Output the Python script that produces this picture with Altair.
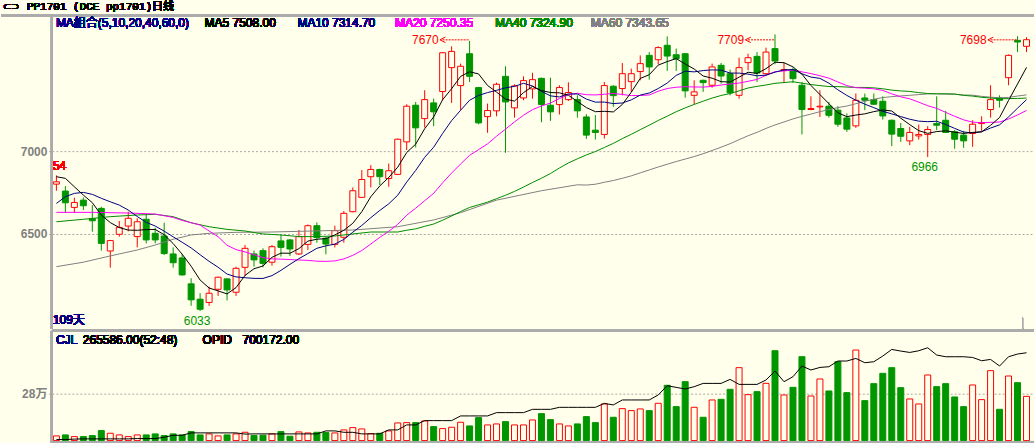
import altair as alt
import pandas as pd

BG = "#FFFFEB"
RED = "#FF0000"
GREEN = "#009600"
NAVY = "#000080"
MAGENTA = "#FF00FF"
MA40C = "#008C00"
GRAY = "#808080"
FRAME = "#ABABAB"
FONT = "Liberation Sans, Noto Sans CJK TC"

# ---------------- data ----------------
opens = [6802, 6760, 6661, 6705, 6593, 6655, 6397, 6498, 6548, 6484,
         6589, 6504, 6488, 6379, 6355, 6198, 6105, 6085, 6165, 6228,
         6147, 6298, 6379, 6399, 6329, 6458, 6464, 6379, 6437, 6550,
         6474, 6437, 6480, 6635, 6722, 6847, 6891, 6836, 6861, 7058,
         7280, 7199, 7294, 7363, 7508, 7399, 7592, 7387, 7211, 7246,
         7455, 7264, 7324, 7379, 7443, 7280, 7284, 7314, 7314, 7209,
         7129, 7103, 7395, 7381, 7423, 7484, 7582, 7556, 7643, 7586,
         7592, 7340, 7431, 7401, 7522, 7471, 7340, 7538, 7576, 7471,
         7623, 7492, 7496, 7401, 7254, 7270, 7274, 7250, 7203, 7155,
         7324, 7314, 7304, 7189, 7139, 7064, 7094, 7103, 7169, 7189,
         7119, 7099, 7109, 7169, 7254, 7324, 7447, 7673, 7637]
highs = [6855, 6790, 6720, 6722, 6675, 6665, 6464, 6579, 6635, 6595,
         6621, 6538, 6568, 6419, 6379, 6232, 6141, 6181, 6242, 6232,
         6302, 6433, 6399, 6413, 6433, 6494, 6470, 6524, 6558, 6570,
         6484, 6550, 6639, 6782, 6887, 6917, 6895, 6927, 7078, 7286,
         7300, 7371, 7320, 7602, 7637, 7532, 7670, 7391, 7290, 7417,
         7516, 7407, 7455, 7477, 7447, 7447, 7401, 7419, 7340, 7226,
         7220, 7421, 7401, 7536, 7502, 7582, 7602, 7637, 7697, 7623,
         7596, 7431, 7435, 7532, 7536, 7496, 7568, 7592, 7602, 7629,
         7709, 7536, 7508, 7421, 7334, 7371, 7300, 7274, 7230, 7351,
         7351, 7351, 7334, 7193, 7173, 7149, 7163, 7153, 7334, 7246,
         7129, 7125, 7189, 7213, 7401, 7340, 7588, 7698, 7692]
lows = [6762, 6629, 6629, 6645, 6514, 6399, 6296, 6484, 6516, 6419,
        6443, 6443, 6373, 6296, 6248, 6065, 6033, 6065, 6125, 6097,
        6125, 6246, 6302, 6298, 6308, 6363, 6367, 6373, 6403, 6447,
        6377, 6419, 6447, 6631, 6718, 6782, 6796, 6786, 6857, 7008,
        7024, 7145, 7153, 7310, 7294, 7250, 7421, 7165, 7113, 7213,
        6992, 7205, 7310, 7320, 7177, 7185, 7224, 7306, 7205, 7076,
        7072, 7078, 7270, 7340, 7361, 7431, 7435, 7528, 7488, 7488,
        7326, 7286, 7361, 7387, 7411, 7340, 7320, 7492, 7421, 7461,
        7528, 7415, 7415, 7103, 7250, 7209, 7205, 7149, 7119, 7143,
        7250, 7282, 7193, 7032, 7058, 7038, 7072, 6966, 7129, 7111,
        7016, 7022, 7028, 7125, 7205, 7266, 7401, 7602, 7602]
closes = [6816, 6689, 6691, 6671, 6580, 6443, 6460, 6540, 6595, 6574,
          6464, 6464, 6381, 6326, 6252, 6101, 6044, 6141, 6238, 6161,
          6292, 6413, 6343, 6322, 6423, 6419, 6409, 6484, 6550, 6478,
          6439, 6520, 6625, 6762, 6830, 6891, 6847, 6883, 7074, 7274,
          7143, 7314, 7240, 7598, 7606, 7516, 7455, 7173, 7248, 7407,
          7300, 7397, 7429, 7435, 7284, 7240, 7387, 7357, 7246, 7099,
          7115, 7399, 7338, 7471, 7471, 7532, 7512, 7629, 7578, 7562,
          7367, 7361, 7417, 7512, 7457, 7355, 7508, 7568, 7475, 7602,
          7548, 7496, 7441, 7254, 7260, 7274, 7219, 7165, 7135, 7310,
          7310, 7286, 7215, 7105, 7092, 7115, 7103, 7133, 7159, 7115,
          7074, 7064, 7165, 7175, 7314, 7310, 7582, 7663, 7677]
volumes = [28000, 34000, 24000, 24000, 30000, 60000, 44000, 34000, 24000, 34000,
           34000, 40000, 30000, 40000, 34000, 54000, 34000, 40000, 28000, 34000,
           40000, 50000, 30000, 32000, 40000, 54000, 26000, 52000, 46000, 50000,
           48000, 46000, 64000, 78000, 70000, 42000, 44000, 58000, 106000, 108000,
           108000, 118000, 84000, 72000, 80000, 110000, 88000, 138000, 94000, 100000,
           114000, 94000, 94000, 124000, 162000, 126000, 100000, 88000, 100000, 144000,
           108000, 220000, 140000, 192000, 180000, 190000, 180000, 224000, 332000, 204000,
           354000, 200000, 140000, 244000, 248000, 308000, 438000, 276000, 294000, 344000,
           540000, 274000, 320000, 504000, 268000, 370000, 298000, 474000, 288000, 544000,
           240000, 342000, 404000, 438000, 318000, 250000, 220000, 394000, 324000, 342000,
           262000, 204000, 334000, 246000, 420000, 188000, 388000, 348000, 265586]
open_interest = [8000, 8000, 11900, 13500, 13500, 13500, 13500, 13500, 13500, 15900,
                 15900, 15900, 26300, 42200, 42200, 61300, 61300, 61300, 61300, 61300,
                 61300, 51700, 53300, 53300, 53300, 53300, 53300, 53300, 53300, 53300,
                 77200, 77200, 66000, 66000, 53300, 53300, 53300, 85100, 85100, 124900,
                 124900, 159100, 159100, 159100, 159100, 196500, 196500, 196500, 196500, 222800,
                 222800, 222800, 222800, 249100, 249100, 249100, 265000, 265000, 265000, 265000,
                 265000, 296800, 284100, 323800, 323800, 323800, 323800, 363600, 437600, 424100,
                 411400, 429700, 455900, 455900, 455900, 487800, 448000, 448000, 448000, 483000,
                 554600, 469500, 509200, 594400, 562600, 583200, 588800, 634200, 634200, 654900,
                 620600, 628600, 674000, 726500, 713700, 702600, 716100, 740000, 681900, 668400,
                 668400, 668400, 662800, 636600, 646900, 594400, 668400, 689900, 700172]

# moving-average values before each window is full
ma5_head = [(0, 6847), (1, 6837), (2, 6786), (3, 6736)]
ma10_head = [(0, 6685), (1, 6726), (2, 6746), (3, 6752), (4, 6740), (5, 6716),
             (6, 6695), (7, 6675), (8, 6645)]
ma20_head = [(0, 6631), (4, 6631), (8, 6627), (11, 6621), (13, 6600), (14, 6582),
             (16, 6554), (17, 6518), (18, 6484)]
ma40_head = [(0, 6574), (3, 6589), (6, 6605), (9, 6615), (11, 6619), (13, 6605),
             (15, 6568), (17, 6544), (19, 6528), (21, 6518), (23, 6500), (25, 6494),
             (27, 6484), (29, 6484), (31, 6488), (33, 6500), (35, 6512), (38, 6512)]
ma60_head = [(0, 6302), (3, 6329), (6, 6367), (9, 6403), (11, 6433), (13, 6468),
             (15, 6494), (17, 6504), (20, 6510), (24, 6512), (27, 6516), (33, 6524),
             (38, 6544), (42, 6585), (45, 6629), (49, 6705), (54, 6762), (58, 6798)]

header_texts = ["MA組合(5,10,20,40,60,0)", "MA5 7508.00", "MA10 7314.70",
                "MA20 7250.35", "MA40 7324.90", "MA60 7343.65"]
header_colors = [NAVY, "#000000", NAVY, MAGENTA, MA40C, GRAY]
header_x = [4, 153, 246, 344, 444, 540]

peak_idx = [46, 80, 107]
peak_text = ["7670", "7709", "7698"]
trough_idx = [16, 97]
trough_text = ["6033", "6966"]

# ---------------- frames ----------------
n = len(closes)
df = pd.DataFrame({"i": list(range(n)), "o": opens, "h": highs, "l": lows,
                   "c": closes, "v": volumes, "oi": open_interest})
df["dir"] = ["up" if c >= o else "down" for o, c in zip(opens, closes)]
df["top"] = df[["o", "c"]].max(axis=1)
df["bot"] = df[["o", "c"]].min(axis=1)
df["x1"] = df["i"] - 3 / 9
df["x2"] = df["i"] + 3 / 9
df["zero"] = 0


def ma_frame(win, head):
    s = pd.Series(closes, dtype=float).rolling(win).mean()
    rows = [{"i": i, "val": float(v)} for i, v in head]
    rows += [{"i": i, "val": float(s[i])} for i in range(win - 1, n)]
    return pd.DataFrame(rows)


peaks = pd.DataFrame({"i": peak_idx, "t": peak_text})
troughs = pd.DataFrame({"i": trough_idx, "t": trough_text,
                        "p": [lows[k] for k in trough_idx]})

# ---------------- scales ----------------
W, H1, H2 = 984, 329, 114
xs = alt.Scale(domain=[-0.5, 108.8333], nice=False, zero=False)


def X(f):
    return alt.X(f"{f}:Q", scale=xs, axis=None, title=None)


ys = alt.Scale(domain=[5925.6, 7914.9], nice=False, zero=False)
yax = alt.Axis(values=[6500, 7000], format="d", labelColor=GRAY, labelFontWeight="bold",
               labelFont=FONT, labelFontSize=12, tickSize=3, tickColor=GRAY,
               labelPadding=2, domain=False, grid=True, gridColor="#A8A8A8",
               gridDash=[2, 2], gridWidth=1, minExtent=51, maxExtent=51, title=None)


def Y(f):
    return alt.Y(f"{f}:Q", scale=ys, axis=yax, title=None)


def label(px, py, txt, col, font=FONT, size=12, align="left"):
    return alt.Chart(df).mark_text(align=align, baseline="middle", font=font, fontSize=size,
                                   fontWeight="normal", color=col).encode(
        x=alt.value(px), y=alt.value(py), text=alt.value(txt))


base = alt.Chart(df)
wick_up = base.transform_filter("datum.dir == 'up'").mark_rule(color=RED, strokeWidth=1).encode(
    x=X("i"), y=Y("l"), y2="h")
wick_dn = base.transform_filter("datum.dir == 'down'").mark_rule(color=GREEN, strokeWidth=1).encode(
    x=X("i"), y=Y("l"), y2="h")
body_up = base.transform_filter("datum.dir == 'up'").mark_rect(
    fill=BG, stroke=RED, strokeWidth=1).encode(x=X("x1"), x2="x2", y=Y("top"), y2="bot")
body_dn = base.transform_filter("datum.dir == 'down'").mark_rect(
    fill=GREEN, stroke=GREEN, strokeWidth=1).encode(x=X("x1"), x2="x2", y=Y("top"), y2="bot")

ma_layers = []
for win, head, col in [(60, ma60_head, GRAY), (40, ma40_head, MA40C), (20, ma20_head, MAGENTA),
                       (10, ma10_head, NAVY), (5, ma5_head, "#000000")]:
    ma_layers.append(alt.Chart(ma_frame(win, head)).mark_line(color=col, strokeWidth=1).encode(
        x=X("i"), y=Y("val")))

# peak annotations
pk = alt.Chart(peaks)
peak_txt = pk.mark_text(align="right", baseline="middle", dx=-31, color=RED, fontWeight="normal",
                        font=FONT, fontSize=12).encode(x=X("i"), y=alt.value(40), text="t:N")
peak_line = pk.transform_calculate(a1="datum.i - 27/9").mark_rule(
    color=RED, strokeWidth=1, strokeDash=[2, 1]).encode(x=X("a1"), x2="i", y=alt.value(39.5))
peak_head = pk.transform_calculate(a1="datum.i - 27/9").mark_point(
    shape="M1,-1L-1,0L1,1", filled=False, color=RED, size=30, strokeWidth=1, opacity=1).encode(
    x=X("a1"), y=alt.value(39.5))
trough_txt = alt.Chart(troughs).mark_text(align="center", baseline="middle", dx=-3, dy=10,
                                          color=GREEN, font=FONT, fontSize=12,
                                          fontWeight="normal").encode(
    x=X("i"), y=Y("p"), text="t:N")

deco = [
    alt.Chart(df).mark_rule(color=FRAME, strokeWidth=2).encode(
        x=alt.value(-51), x2=alt.value(W), y=alt.value(15)),
    alt.Chart(df).mark_rule(color=FRAME, strokeWidth=2).encode(
        x=alt.value(0), y=alt.value(15), y2=alt.value(H1)),
    alt.Chart(df).mark_rule(color=FRAME, strokeWidth=1).encode(
        x=alt.value(972.5), y=alt.value(318), y2=alt.value(H1)),
    label(-49, 7, "⊂⊃", "#000000", font="DejaVu Sans", size=10),
    label(-25, 7, "PP1701    (DCE pp1701)日线", "#000000",
          font="Liberation Mono, Noto Sans CJK SC", size=11),
    label(1, 166, "54", RED),
    label(1, 320, "109天", NAVY),
]
for t, col, px in zip(header_texts, header_colors, header_x):
    deco.append(label(px, 23, t, col))

top = alt.layer(wick_up, wick_dn, body_up, body_dn, *ma_layers, peak_line, peak_head,
                peak_txt, trough_txt, *deco).properties(width=W, height=H1)

# ---------------- volume panel ----------------
vs = alt.Scale(domain=[-23984, 659560], nice=False, zero=False)
vax = alt.Axis(values=[280000], labelExpr="'28万'", labelColor=GRAY, labelFontWeight="bold",
               labelFont=FONT, labelFontSize=12, tickSize=3, tickColor=GRAY, labelPadding=2,
               domain=False, grid=True, gridColor="#A8A8A8", gridDash=[2, 2], gridWidth=1,
               minExtent=51, maxExtent=51, title=None)
ois = alt.Scale(domain=[-31828, 875270], nice=False, zero=False)

vol_up = base.transform_filter("datum.dir == 'up'").mark_rect(
    fill=BG, stroke=RED, strokeWidth=1).encode(
    x=X("x1"), x2="x2", y=alt.Y("v:Q", scale=vs, axis=vax, title=None), y2="zero")
vol_dn = base.transform_filter("datum.dir == 'down'").mark_rect(
    fill=GREEN, stroke=GREEN, strokeWidth=1).encode(
    x=X("x1"), x2="x2", y=alt.Y("v:Q", scale=vs, axis=vax, title=None), y2="zero")
vols = alt.layer(vol_up, vol_dn)
oi_line = base.mark_line(color="#000000", strokeWidth=1).encode(
    x=X("i"), y=alt.Y("oi:Q", scale=ois, axis=None, title=None))

vdeco = [
    alt.Chart(df).mark_rule(color=FRAME, strokeWidth=2).encode(
        x=alt.value(0), x2=alt.value(W), y=alt.value(0)),
    alt.Chart(df).mark_rule(color=FRAME, strokeWidth=2).encode(
        x=alt.value(0), y=alt.value(0), y2=alt.value(H2)),
    alt.Chart(df).mark_rule(color=FRAME, strokeWidth=2).encode(
        x=alt.value(0), x2=alt.value(W), y=alt.value(111.5)),
    label(4, 9, "CJL", NAVY),
    label(31, 9, "265586.00(52:48)", "#000000"),
    label(151, 9, "OPID", "#000000"),
    label(191, 9, "700172.00", "#000000"),
]

bottom = alt.layer(vols, oi_line, *vdeco).resolve_scale(y="independent").properties(
    width=W, height=H2)

chart = alt.vconcat(top, bottom, spacing=0).properties(
    padding=0, background=BG).configure_view(stroke=None)

chart.save("out.html", embed_options={"renderer": "svg", "actions": False})
